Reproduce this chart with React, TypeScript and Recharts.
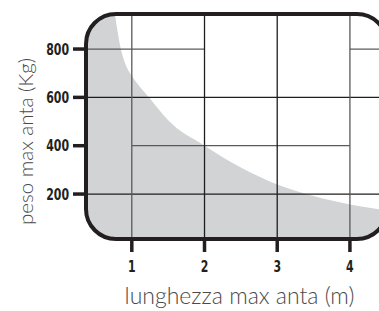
import React from 'react';
import { AreaChart, Area, XAxis, YAxis, ReferenceLine, ReferenceArea, Label } from 'recharts';

// max leaf weight (kg) by leaf length (m)
const lengthM = [0.37, 0.6, 0.77, 0.85, 0.93, 1, 1.25, 1.5, 2, 2.5, 3, 3.5, 4, 4.51];
const maxWeightKg = [2600, 1350, 940, 800, 725, 690, 595, 505, 400, 310, 240, 192, 157, 132];

const xTicks = [1, 2, 3, 4];
const yTicks = [200, 400, 600, 800];

const X_MIN = 0.37;
const X_MAX = 4.51;
const Y_MIN = 14;
const Y_MAX = 945;

// grid pieces as printed (some rows are broken)
const rowLines = [
  { value: 800, from: X_MIN, to: 2, dark: false },
  { value: 800, from: 4, to: X_MAX, dark: false },
  { value: 600, from: X_MIN, to: X_MAX, dark: true },
  { value: 400, from: 1, to: 4, dark: false },
  { value: 200, from: X_MIN, to: X_MAX, dark: true },
];
const colLines = [
  { value: 1, dark: false },
  { value: 2, dark: true },
  { value: 3, dark: true },
  { value: 4, dark: false },
];

const data = lengthM.map((x, i) => ({ x, kg: maxWeightKg[i] }));

const INK = '#231f20';
const tickFont = "'DejaVu Sans Condensed', 'Liberation Sans Narrow', sans-serif";
const titleFont = "Lato, 'Open Sans', sans-serif";

// condensed bold numbers like the printed scale
const NarrowTick = ({ x, y, payload, textAnchor, dy }: any) => (
  <g transform={`translate(${x},${y})`}>
    <text
      transform="scale(0.76,1)"
      textAnchor={textAnchor}
      dy={dy}
      fill={INK}
      fontSize={16}
      fontWeight={700}
      fontFamily={tickFont}
    >
      {payload.value}
    </text>
  </g>
);
const XTick = (props: any) => <NarrowTick {...props} textAnchor="middle" dy="0.71em" />;
const YTick = (props: any) => <NarrowTick {...props} textAnchor="end" dy="0.36em" />;

// rounded frame + white corners so the grey fill follows the radius
const Frame = (props: any) => {
  const { x, y, width, height } = props;
  const r = 30;
  const x2 = x + width;
  const y2 = y + height;
  return (
    <g>
      <path
        d={`M${x - 3},${y - 3} L${x + r},${y - 3} L${x + r},${y} A${r},${r} 0 0 0 ${x},${y + r} L${x - 3},${y + r} Z
            M${x - 3},${y2 + 3} L${x + r},${y2 + 3} L${x + r},${y2} A${r},${r} 0 0 1 ${x},${y2 - r} L${x - 3},${y2 - r} Z
            M${x2 + 3},${y - 3} L${x2 - r},${y - 3} L${x2 - r},${y} A${r},${r} 0 0 1 ${x2},${y + r} L${x2 + 3},${y + r} Z
            M${x2 + 3},${y2 + 3} L${x2 - r},${y2 + 3} L${x2 - r},${y2} A${r},${r} 0 0 0 ${x2},${y2 - r} L${x2 + 3},${y2 - r} Z`}
        fill="#fff"
      />
      <rect x={x} y={y} width={width} height={height} rx={r} ry={r} fill="none" stroke={INK} strokeWidth={4} />
    </g>
  );
};

const YTitle = ({ viewBox }: any) => {
  const cx = viewBox.x + 33;
  const cy = viewBox.y + viewBox.height / 2 + 15;
  return (
    <text
      x={cx}
      y={cy}
      transform={`rotate(-90, ${cx}, ${cy})`}
      textAnchor="middle"
      fill="#4a4a4a"
      fontSize={20.5}
      fontWeight={300}
      fontFamily={titleFont}
    >
      peso max anta (Kg)
    </text>
  );
};

const XTitle = ({ viewBox }: any) => (
  <text
    x={viewBox.x + viewBox.width / 2 + 3}
    y={viewBox.y + 65}
    textAnchor="middle"
    fill="#4a4a4a"
    fontSize={23}
    fontWeight={300}
    fontFamily={titleFont}
  >
    lunghezza max anta (m)
  </text>
);

const App = () => {
  return (
    <div style={{ position: 'absolute', left: 0, top: 0, width: 379, height: 311, overflow: 'hidden', background: '#fff' }}>
      <AreaChart width={387} height={311} data={data} margin={{ top: 14, right: 0, left: 0, bottom: 0 }}>
        <XAxis
          dataKey="x"
          type="number"
          domain={[X_MIN, X_MAX]}
          allowDataOverflow
          ticks={xTicks}
          interval={0}
          height={72}
          axisLine={false}
          tickSize={13}
          tickMargin={9}
          tickLine={{ stroke: INK, strokeWidth: 3.5 }}
          tick={<XTick />}
        >
          <Label content={<XTitle />} />
        </XAxis>
        <YAxis
          type="number"
          domain={[Y_MIN, Y_MAX]}
          allowDataOverflow
          ticks={yTicks}
          interval={0}
          width={86}
          axisLine={false}
          tickSize={13}
          tickMargin={4}
          tickLine={{ stroke: INK, strokeWidth: 3.5 }}
          tick={<YTick />}
        >
          <Label content={<YTitle />} />
        </YAxis>
        <Area
          type="monotone"
          dataKey="kg"
          stroke="none"
          fill="#d1d3d4"
          fillOpacity={1}
          isAnimationActive={false}
          dot={false}
          activeDot={false}
        />
        {rowLines.map((r, i) => (
          <ReferenceLine
            key={`r${i}`}
            segment={[{ x: r.from, y: r.value }, { x: r.to, y: r.value }]}
            stroke={r.dark ? '#1e1e1e' : '#5a5a5a'}
            strokeWidth={1.3}
            zIndex={200}
          />
        ))}
        {colLines.map((c, i) => (
          <ReferenceLine
            key={`c${i}`}
            x={c.value}
            stroke={c.dark ? '#1e1e1e' : '#5a5a5a'}
            strokeWidth={1.3}
            zIndex={200}
          />
        ))}
        <ReferenceArea
          x1={X_MIN}
          x2={X_MAX}
          y1={Y_MIN}
          y2={Y_MAX}
          ifOverflow="visible"
          shape={<Frame />}
          zIndex={600}
        />
      </AreaChart>
    </div>
  );
};

export default App;
